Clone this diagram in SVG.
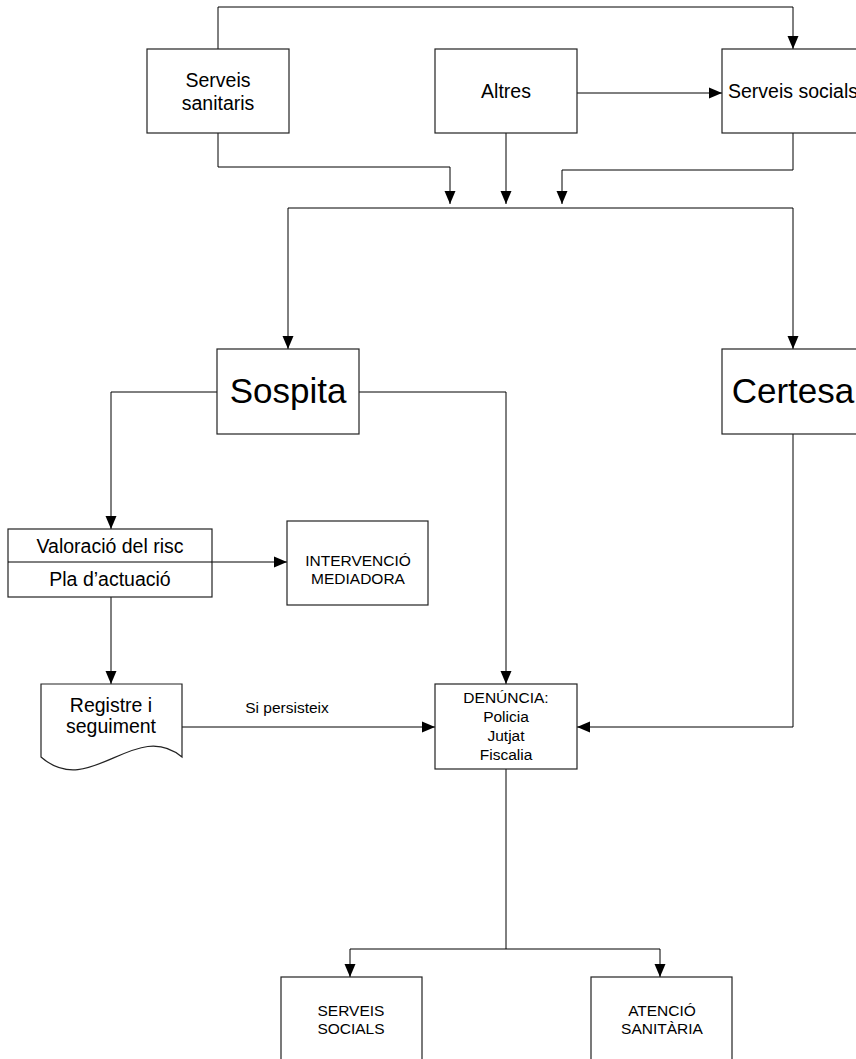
<svg xmlns="http://www.w3.org/2000/svg" width="856" height="1059" viewBox="0 0 856 1059">
<style>
.box{fill:#fff;stroke:#222;stroke-width:1.2}
.ln{fill:none;stroke:#000;stroke-width:1}
.arr{fill:none;stroke:#000;stroke-width:1;marker-end:url(#ah)}
text{font-family:"Liberation Sans",Arial,sans-serif;fill:#000;text-anchor:middle}
.m{font-size:19.5px}
.s{font-size:15.5px}
.l{font-size:35px}
</style>
<defs>
<marker id="ah" markerUnits="userSpaceOnUse" markerWidth="14" markerHeight="12" viewBox="0 0 14 12" refX="13" refY="6" orient="auto">
<path d="M0,0.5 L13,6 L0,11.5 Z" fill="#000"/>
</marker>
</defs>
<rect width="856" height="1059" fill="#fff"/>
<g id="connectors">
<path class="arr" d="M218,49 V7 H793 V49"/>
<path class="arr" d="M577,93 H722"/>
<path class="arr" d="M218,133 V167 H450 V204"/>
<path class="arr" d="M506,133 V204"/>
<path class="arr" d="M793,133 V170 H562 V204"/>
<path class="ln" d="M288,208 H793"/>
<path class="arr" d="M288,208 V349"/>
<path class="arr" d="M793,208 V349"/>
<path class="arr" d="M359,392 H506 V684"/>
<path class="arr" d="M217,392 H111 V529"/>
<path class="arr" d="M212,562 H287"/>
<path class="arr" d="M111,597 V684"/>
<path class="arr" d="M182,727 H435"/>
<text class="s" x="287" y="713">Si persisteix</text>
<path class="arr" d="M793,434 V727 H577"/>
<path class="ln" d="M506,769 V949"/>
<path class="arr" d="M506,949 H350 V977"/>
<path class="arr" d="M506,949 H660 V977"/>
</g>
<g id="serveis-sanitaris">
<rect class="box" x="147" y="49" width="142" height="84"/>
<text class="m" x="218" y="87">Serveis</text>
<text class="m" x="218" y="110">sanitaris</text>
</g>
<g id="altres">
<rect class="box" x="435" y="49" width="142" height="84"/>
<text class="m" x="506" y="98">Altres</text>
</g>
<g id="serveis-socials">
<rect class="box" x="722" y="49" width="142" height="84"/>
<text class="m" x="793" y="98">Serveis socials</text>
</g>
<g id="sospita">
<rect class="box" x="217" y="349" width="142" height="85"/>
<text class="l" x="288" y="403">Sospita</text>
</g>
<g id="certesa">
<rect class="box" x="722" y="349" width="142" height="85"/>
<text class="l" x="793" y="403">Certesa</text>
</g>
<g id="valoracio">
<rect class="box" x="8" y="529" width="204" height="68"/>
<line class="ln" x1="8" y1="562" x2="212" y2="562"/>
<text class="m" x="110" y="553">Valoració del risc</text>
<text class="m" x="110" y="586">Pla d’actuació</text>
</g>
<g id="intervencio">
<rect class="box" x="287" y="521" width="141" height="84"/>
<text class="s" x="358" y="566">INTERVENCIÓ</text>
<text class="s" x="358" y="584">MEDIADORA</text>
</g>
<g id="registre">
<path class="box" d="M41,684 H182 V757 C135,718 90,800 41,757 Z"/>
<text class="m" x="111" y="712">Registre i</text>
<text class="m" x="111" y="733">seguiment</text>
</g>
<g id="denuncia">
<rect class="box" x="435" y="684" width="142" height="85"/>
<text class="s" x="506" y="703">DENÚNCIA:</text>
<text class="s" x="506" y="722">Policia</text>
<text class="s" x="506" y="741">Jutjat</text>
<text class="s" x="506" y="760">Fiscalia</text>
</g>
<g id="serveis-socials-2">
<rect class="box" x="281" y="977" width="141" height="100"/>
<text class="s" x="351" y="1016">SERVEIS</text>
<text class="s" x="351" y="1034">SOCIALS</text>
</g>
<g id="atencio-sanitaria">
<rect class="box" x="591" y="977" width="141" height="100"/>
<text class="s" x="662" y="1016">ATENCIÓ</text>
<text class="s" x="662" y="1034">SANITÀRIA</text>
</g>
</svg>
